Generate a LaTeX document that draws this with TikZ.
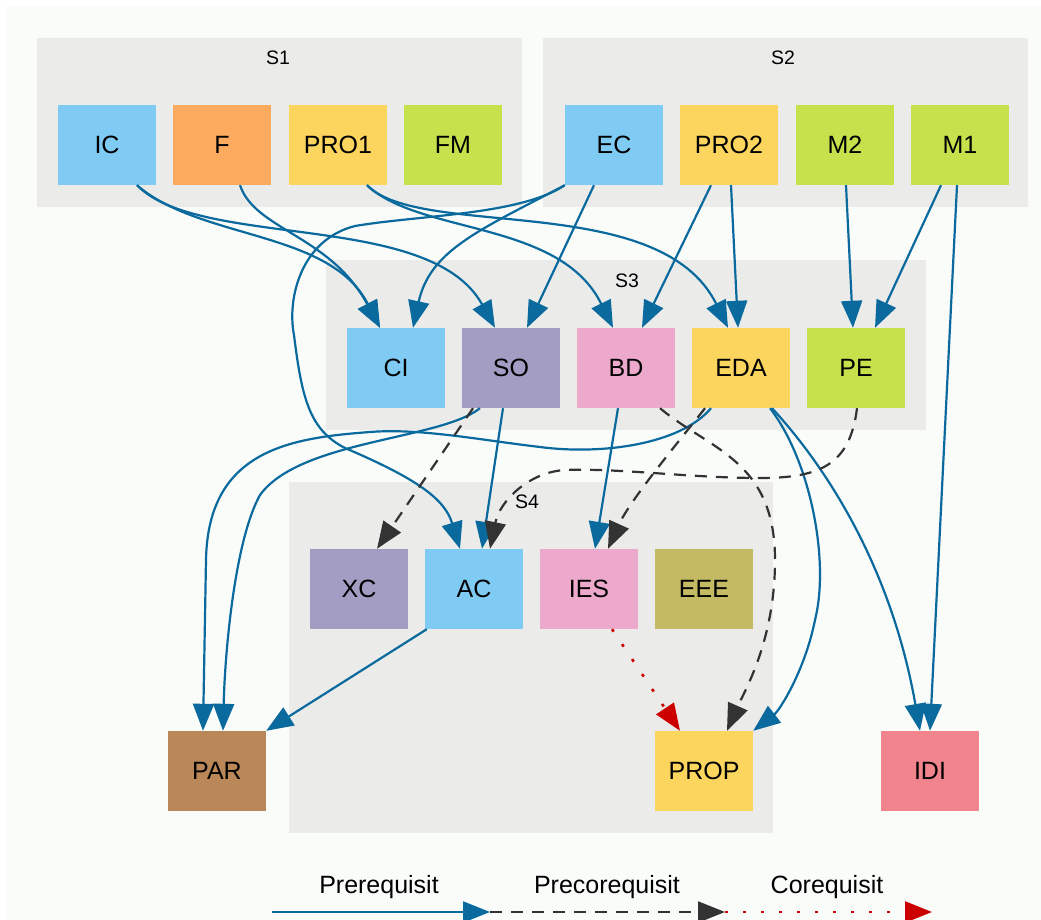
\documentclass[tikz,border=0pt]{standalone}
\usepackage{fontspec}
\setmainfont{Liberation Sans}
\usetikzlibrary{arrows.meta}
\definecolor{bg}{HTML}{FAFCFA}
\definecolor{clus}{HTML}{EBECEA}
\definecolor{pre}{HTML}{0A6A9E}
\definecolor{prec}{HTML}{333333}
\definecolor{cor}{HTML}{CD0000}
\definecolor{cblue}{HTML}{7FCBF4}
\definecolor{corange}{HTML}{FBAA5E}
\definecolor{cyellow}{HTML}{FCD55F}
\definecolor{cgreen}{HTML}{C5E24D}
\definecolor{cpurple}{HTML}{A39DC4}
\definecolor{cpink}{HTML}{EDA9CB}
\definecolor{colive}{HTML}{C4BA63}
\definecolor{cbrown}{HTML}{BA8759}
\definecolor{cred}{HTML}{F2848D}
\begin{document}
\begin{tikzpicture}[x=1pt,y=-1pt,
 course/.style={rectangle, minimum width=98pt, minimum height=80pt, inner sep=0pt, font=\fontsize{25}{28}\selectfont},
 cluster/.style={fill=clus, draw=none},
 clabel/.style={font=\fontsize{19.5}{22}\selectfont},
 legendlabel/.style={font=\fontsize{25}{28}\selectfont},
 tip/.style={-{Triangle[length=27pt,width=21pt]}},
 prereq/.style={draw=pre, line width=2.2pt, tip},
 precoreq/.style={draw=prec, line width=2.2pt, dash pattern=on 12pt off 9pt, tip},
 coreq/.style={draw=cor, line width=2.6pt, dash pattern=on 3pt off 15pt, tip},
 ]
\useasboundingbox (0,0) rectangle (1041,920);
\fill[white] (0,0) rectangle (1041,920);
\fill[bg] (6,6) rectangle (1041,920);
% clusters
\fill[cluster] (37,38) rectangle (522,207);
\fill[cluster] (543,38) rectangle (1028,207);
\fill[cluster] (326,260) rectangle (926,430);
\fill[cluster] (289,482) rectangle (773,833);
\node[clabel] (S1) at (278,58) {S1};
\node[clabel] (S2) at (783,58) {S2};
\node[clabel] (S3) at (627,281) {S3};
\node[clabel] (S4) at (527,502) {S4};
% nodes
\node[course, fill=cblue] (IC) at (107,145) {IC};
\node[course, fill=corange] (F) at (222,145) {F};
\node[course, fill=cyellow] (PRO1) at (338,145) {PRO1};
\node[course, fill=cgreen] (FM) at (453,145) {FM};
\node[course, fill=cblue] (EC) at (614,145) {EC};
\node[course, fill=cyellow] (PRO2) at (729,145) {PRO2};
\node[course, fill=cgreen] (M2) at (845,145) {M2};
\node[course, fill=cgreen] (M1) at (960,145) {M1};
\node[course, fill=cblue] (CI) at (396,368) {CI};
\node[course, fill=cpurple] (SO) at (511,368) {SO};
\node[course, fill=cpink] (BD) at (626,368) {BD};
\node[course, fill=cyellow] (EDA) at (741,368) {EDA};
\node[course, fill=cgreen] (PE) at (856,368) {PE};
\node[course, fill=cpurple] (XC) at (359,589) {XC};
\node[course, fill=cblue] (AC) at (474,589) {AC};
\node[course, fill=cpink] (IES) at (589,589) {IES};
\node[course, fill=colive] (EEE) at (704,589) {EEE};
\node[course, fill=cbrown] (PAR) at (217,771) {PAR};
\node[course, fill=cyellow] (PROP) at (704,771) {PROP};
\node[course, fill=cred] (IDI) at (930,771) {IDI};
% prerequisites
\draw[prereq] ([xshift=30pt]IC.south) .. controls (200,240) and (330,230) .. ([xshift=-16pt]CI.north);
\draw[prereq] ([xshift=18pt]F.south) .. controls (255,230) and (330,235) .. ([xshift=-16pt]CI.north);
\draw[prereq] ([xshift=30pt]IC.south) .. controls (200,250) and (430,210) .. ([xshift=-16pt]SO.north);
\draw[prereq] (EC.south west) .. controls (480,230) and (430,250) .. ([xshift=17pt]CI.north);
\draw[prereq] ([xshift=-20pt]EC.south) -- ([xshift=16pt]SO.north);
\draw[prereq] (EC.south west) .. controls (520,215) and (420,215) .. (355,226) .. controls (300,240) and (287,300) .. (294,335) .. controls (302,400) and (310,430) .. (345,448) .. controls (420,480) and (445,500) .. ([xshift=-14pt]AC.north);
\draw[prereq] ([xshift=29pt]PRO1.south) .. controls (420,235) and (560,220) .. ([xshift=-13pt]BD.north);
\draw[prereq] ([xshift=29pt]PRO1.south) .. controls (420,240) and (660,190) .. ([xshift=-13pt]EDA.north);
\draw[prereq] ([xshift=-18pt]PRO2.south) -- ([xshift=16pt]BD.north);
\draw[prereq] ([xshift=2pt]PRO2.south) -- ([xshift=-3pt]EDA.north);
\draw[prereq] ([xshift=1pt]M2.south) -- ([xshift=-3pt]PE.north);
\draw[prereq] ([xshift=-19pt]M1.south) -- ([xshift=19pt]PE.north);
\draw[prereq] ([xshift=-3pt]M1.south) -- (IDI.north);
\draw[prereq] ([xshift=-31pt]SO.south) .. controls (440,440) and (300,440) .. (260,495) .. controls (235,540) and (225,650) .. ([xshift=6pt]PAR.north);
\draw[prereq] ([xshift=-30pt]EDA.south) .. controls (680,445) and (600,455) .. (540,447) .. controls (480,440) and (420,428) .. (370,432) .. controls (290,438) and (208,450) .. (206,560) -- ([xshift=-14pt]PAR.north);
\draw[prereq] ([xshift=2pt]AC.south west) -- (PAR.north east);
\draw[prereq] ([xshift=-8pt]SO.south) -- ([xshift=8pt]AC.north);
\draw[prereq] ([xshift=-8pt]BD.south) -- ([xshift=6pt]IES.north);
\draw[prereq] ([xshift=29pt]EDA.south) .. controls (810,460) and (830,560) .. (815,620) .. controls (805,670) and (780,710) .. (PROP.north east);
\draw[prereq] ([xshift=31pt]EDA.south) .. controls (820,460) and (890,560) .. ([xshift=-10pt]IDI.north);
% precorequisites
\draw[precoreq] ([xshift=-38pt]SO.south) -- ([xshift=18pt]XC.north);
\draw[precoreq] ([xshift=1pt]PE.south) .. controls (850,465) and (820,478) .. (760,478) .. controls (690,478) and (620,468) .. (565,470) .. controls (530,472) and (500,500) .. ([xshift=16pt]AC.north);
\draw[precoreq] ([xshift=-36pt]EDA.south) .. controls (680,440) and (630,500) .. ([xshift=19pt]IES.north);
\draw[precoreq] ([xshift=34pt]BD.south) .. controls (710,450) and (775,460) .. (775,560) .. controls (775,640) and (745,690) .. ([xshift=23pt]PROP.north);
% corequisite
\draw[coreq] ([xshift=23pt]IES.south) -- ([xshift=-24pt]PROP.north);
% legend
\coordinate (L0) at (272,912);
\coordinate (L1) at (490,912);
\coordinate (L2) at (725,912);
\coordinate (L3) at (932,912);
\node[legendlabel] (T1) at (379,887) {Prerequisit};
\node[legendlabel] (T2) at (607,887) {Precorequisit};
\node[legendlabel] (T3) at (827,887) {Corequisit};
\draw[prereq] (L0) -- (L1);
\draw[precoreq] (L1) -- (L2);
\draw[coreq] (L2) -- (L3);
\end{tikzpicture}
\end{document}
